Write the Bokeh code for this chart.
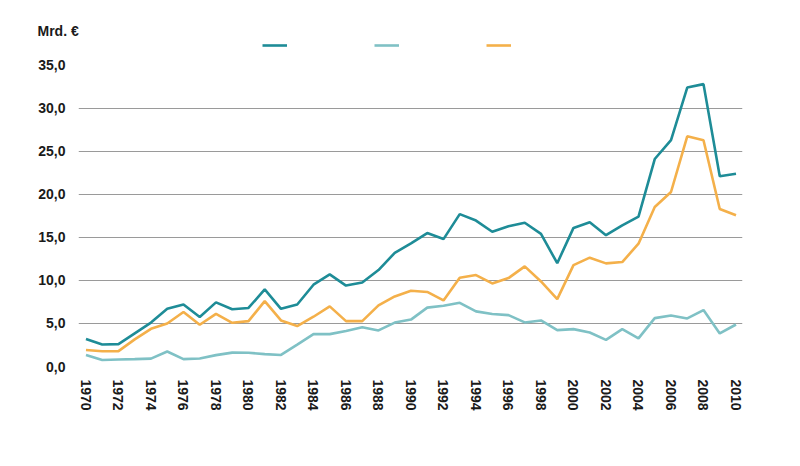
from bokeh.plotting import figure
from bokeh.models import Range1d, FixedTicker, Legend, LegendItem
from bokeh.embed import file_html
from bokeh.resources import INLINE

years = list(range(1970, 2011))
series_dark = [3.2, 2.55, 2.6, 3.85, 5.1, 6.7, 7.2, 5.75, 7.45, 6.65,
               6.8, 8.95, 6.7, 7.2, 9.5, 10.7, 9.4, 9.75, 11.2, 13.2,
               14.3, 15.5, 14.8, 17.7, 16.95, 15.65, 16.3, 16.7, 15.4, 12.0,
               16.1, 16.75, 15.25, 16.4, 17.4, 24.1, 26.3, 32.4, 32.8, 22.1, 22.4]
series_orange = [1.92, 1.78, 1.78, 3.15, 4.38, 5.0, 6.33, 4.85, 6.12, 5.08,
                 5.27, 7.6, 5.35, 4.7, 5.78, 6.98, 5.27, 5.27, 7.1, 8.14,
                 8.8, 8.66, 7.67, 10.31, 10.62, 9.65, 10.27, 11.63, 9.88, 7.83,
                 11.78, 12.64, 11.98, 12.13, 14.26, 18.53, 20.27, 26.74, 26.28, 18.3, 17.56]
series_light = [1.34, 0.76, 0.82, 0.86, 0.92, 1.74, 0.86, 0.93, 1.32, 1.61,
                1.6, 1.44, 1.34, 2.54, 3.76, 3.76, 4.12, 4.55, 4.19, 5.1,
                5.45, 6.84, 7.05, 7.4, 6.4, 6.09, 5.97, 5.12, 5.35, 4.22,
                4.34, 3.95, 3.1, 4.34, 3.26, 5.62, 5.93, 5.58, 6.55, 3.84, 4.88]

y_ticks = [0, 5, 10, 15, 20, 25, 30, 35]
y_tick_labels = ["0,0", "5,0", "10,0", "15,0", "20,0", "25,0", "30,0", "35,0"]
grid_ticks = [0, 5, 10, 15, 20, 25, 30]
x_ticks = list(range(1970, 2011, 2))
unit_label = "Mrd. €"

FONT = "Liberation Sans"
TXT = "#1a1a1a"
C_DARK = "#1e8c97"
C_LIGHT = "#7fc1c5"
C_ORANGE = "#f4b04a"

p = figure(width=784, height=450, output_backend="svg", toolbar_location=None,
           x_range=Range1d(1969.54, 2010.4), y_range=Range1d(0, 38.1),
           min_border_left=78, min_border_right=42, min_border_top=38,
           min_border_bottom=84)
p.outline_line_color = None
p.background_fill_color = "white"

p.title.text = unit_label
p.title.align = "left"
p.title.offset = -41
p.title.standoff = 0
p.title.text_font = FONT
p.title.text_font_size = "14px"
p.title.text_font_style = "bold"
p.title.text_color = TXT

r_dark = p.line(years, series_dark, line_color=C_DARK, line_width=2.6)
r_light = p.line(years, series_light, line_color=C_LIGHT, line_width=2.6)
r_orange = p.line(years, series_orange, line_color=C_ORANGE, line_width=2.6)

# axes
p.yaxis.ticker = FixedTicker(ticks=y_ticks)
p.yaxis.major_label_overrides = {t: l for t, l in zip(y_ticks, y_tick_labels)}
p.xaxis.ticker = FixedTicker(ticks=x_ticks)
p.xaxis.major_label_orientation = -1.5707963
for ax in (p.xaxis, p.yaxis):
    ax.axis_line_color = None
    ax.major_tick_line_color = None
    ax.minor_tick_line_color = None
    ax.major_tick_out = 0
    ax.major_tick_in = 0
    ax.major_label_text_font = FONT
    ax.major_label_text_font_size = "14px"
    ax.major_label_text_font_style = "bold"
    ax.major_label_text_color = TXT
p.xaxis.major_label_standoff = 13
p.yaxis.major_label_standoff = 13

p.xgrid.visible = False
p.ygrid.ticker = FixedTicker(ticks=grid_ticks)
p.ygrid.grid_line_color = "#9a9a9a"
p.ygrid.grid_line_width = 1.2

legend = Legend(items=[LegendItem(label=" ", renderers=[r_dark]),
                       LegendItem(label=" ", renderers=[r_light]),
                       LegendItem(label=" ", renderers=[r_orange])],
                orientation="horizontal", location=(184, 316),
                glyph_width=25, glyph_height=10, label_height=10,
                label_width=87, label_standoff=0, spacing=0, padding=0,
                margin=0, border_line_color=None, background_fill_alpha=0,
                label_text_font_size="1px")
p.add_layout(legend, "center")

open("out.html", "w").write(file_html(p, INLINE))
